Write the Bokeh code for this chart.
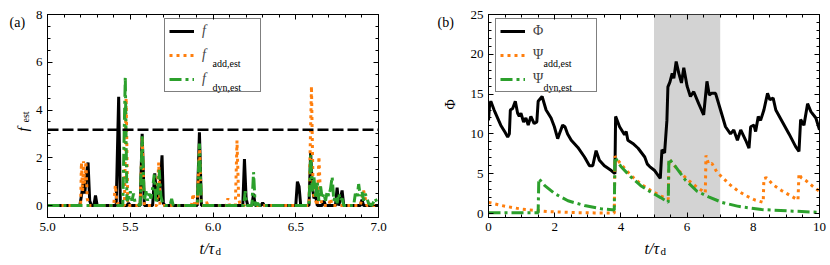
from bokeh.plotting import figure
from bokeh.models import (Range1d, FixedTicker, LinearAxis, PrintfTickFormatter, Label,
                          BoxAnnotation, Span, Legend, LegendItem)
from bokeh.layouts import row, column
from bokeh.embed import file_html
from bokeh.resources import INLINE
from bokeh.core.properties import value

# ---------------- data: panel (a) ----------------
t_f = [5.00, 5.195, 5.205, 5.215, 5.225, 5.235, 5.245, 5.255, 5.265, 5.28, 5.29, 5.30,
       5.415, 5.43, 5.44, 5.45, 5.48, 5.49, 5.50, 5.56, 5.572, 5.585, 5.635, 5.648, 5.66,
       5.67, 5.682, 5.692, 5.70, 5.71, 5.905, 5.918, 5.93, 6.18, 6.19, 6.20, 6.21, 6.235,
       6.245, 6.255, 6.29, 6.30, 6.31, 6.50, 6.51, 6.52, 6.53, 6.58, 6.59, 6.60, 6.61, 6.62,
       6.63, 6.66, 6.67, 6.68, 6.74, 6.75, 6.76, 6.77, 6.78, 6.79, 6.89, 6.90, 6.91, 7.00]
f_vals = [0, 0, 0.4, 0.9, 0.5, 1.3, 1.8, 0.2, 0, 0, 0.42, 0,
          0, 4.55, 0.1, 0, 0, 0.1, 0, 0, 3.0, 0, 0, 1.35, 0.3,
          0.2, 1.0, 2.1, 0.1, 0, 0, 3.07, 0, 0, 1.95, 0.3, 0, 0,
          0.5, 0, 0, 0.12, 0, 0, 1.0, 0.8, 0, 0, 2.2, 0.8, 0.3, 0.4,
          0, 0, 0.2, 0, 0, 0.75, 0, 0.3, 0.63, 0, 0, 0.25, 0, 0]

t_add = [5.00, 5.20, 5.205, 5.212, 5.218, 5.225, 5.232, 5.24, 5.25, 5.40, 5.41, 5.42,
         5.465, 5.475, 5.485, 5.56, 5.572, 5.585, 5.66, 5.672, 5.68, 5.87, 5.88, 5.89,
         5.905, 5.918, 5.93, 5.955, 5.96, 5.97, 6.08, 6.09, 6.10, 6.135, 6.145, 6.155,
         6.165, 6.58, 6.595, 6.605, 6.63, 6.64, 6.65, 6.66, 6.70, 6.71, 6.72, 6.89, 6.91,
         6.93, 7.00]
add_vals = [0, 0, 1.8, 0.6, 1.85, 0.9, 1.85, 0.3, 0, 0, 0.85, 0.1,
            0, 4.5, 0, 0, 2.9, 0, 0, 1.8, 0, 0, 0.5, 0,
            0, 2.5, 0, 0, 0.15, 0, 0, 0.3, 0, 0, 2.72, 0.3,
            0, 0, 5.0, 0.5, 0, 2.05, 0.3, 0, 0, 0.3, 0, 0, 0.63,
            0, 0]

t_dyn = [5.00, 5.455, 5.47, 5.48, 5.49, 5.50, 5.51, 5.52, 5.53, 5.56, 5.572, 5.585, 5.595,
         5.605, 5.615, 5.625, 5.635, 5.645, 5.655, 5.665, 5.675, 5.685, 5.695, 5.71, 5.74,
         5.75, 5.76, 5.905, 5.918, 5.93, 6.185, 6.195, 6.205, 6.235, 6.245, 6.255, 6.27,
         6.28, 6.58, 6.59, 6.60, 6.61, 6.62, 6.63, 6.64, 6.65, 6.66, 6.67, 6.68, 6.69, 6.70,
         6.71, 6.72, 6.73, 6.74, 6.75, 6.76, 6.77, 6.78, 6.79, 6.85, 6.86, 6.87, 6.88, 6.89,
         6.90, 6.91, 6.92, 6.93, 6.94, 6.96, 6.98, 7.00]
dyn_vals = [0, 0, 5.4, 0.2, 0.3, 0.6, 0.2, 0.5, 0.1, 0, 2.9, 0.2, 0.6,
            0.2, 0.5, 0.3, 0.7, 1.3, 0.1, 0.5, 1.5, 0.4, 0.1, 0, 0,
            0.28, 0, 0, 2.6, 0, 0, 0.6, 0, 0, 1.4, 0, 0.1,
            0, 0, 2.1, 0.6, 1.2, 0.3, 1.0, 0.2, 0.8, 0.3, 0.5, 0.2, 0.6, 0.4,
            0.7, 1.2, 0.2, 0.4, 0.1, 0.5, 0.2, 0.3, 0, 0, 0.5, 0.3, 0.9, 0.4,
            0.6, 0.2, 0.5, 0.3, 0.1, 0, 0.3, 0]

threshold = 3.17

# ---------------- data: panel (b) ----------------
t_phi = [0.0, 0.03, 0.07, 0.17, 0.37, 0.5, 0.58, 0.63, 0.66, 0.73, 0.81, 0.88, 0.93, 0.98,
         1.06, 1.13, 1.2, 1.28, 1.38, 1.46, 1.5, 1.62, 1.74, 1.89, 1.99, 2.09, 2.14, 2.24,
         2.31, 2.39, 2.5, 2.7, 2.9, 3.05, 3.15, 3.25, 3.35, 3.5, 3.71, 3.82, 3.84, 3.96,
         4.11, 4.16, 4.21, 4.36, 4.52, 4.72, 4.8, 4.87, 5.02, 5.19, 5.24, 5.32, 5.39, 5.42,
         5.48, 5.55, 5.6, 5.67, 5.75, 5.83, 5.9, 6.0, 6.1, 6.2, 6.35, 6.5, 6.6, 6.67, 6.74,
         6.86, 7.01, 7.16, 7.31, 7.41, 7.52, 7.62, 7.77, 7.87, 7.92, 8.02, 8.07, 8.15, 8.22,
         8.32, 8.43, 8.5, 8.6, 8.68, 8.88, 9.08, 9.28, 9.38, 9.43, 9.53, 9.64, 9.74, 9.89, 10.0]
phi = [11.7, 13.5, 14.1, 13.0, 11.1, 10.2, 9.6, 10.0, 13.0, 13.2, 14.1, 12.6, 12.2, 12.6,
       11.5, 12.0, 11.1, 12.2, 11.3, 11.5, 14.1, 14.7, 13.0, 12.0, 10.9, 9.4, 10.0, 11.1,
       10.9, 10.0, 9.2, 8.3, 7.1, 6.0, 6.0, 7.9, 6.7, 6.0, 5.4, 5.0, 12.2, 10.9,
       9.9, 10.3, 9.2, 8.8, 8.2, 7.1, 6.2, 5.9, 5.4, 4.4, 8.0, 7.6, 11.7, 15.9,
       16.5, 17.6, 17.0, 19.1, 17.6, 16.4, 18.3, 16.0, 14.7, 15.3, 13.8, 12.4, 16.6, 14.9, 15.1,
       15.1, 13.0, 10.9, 10.0, 10.5, 9.2, 10.5, 9.2, 8.2, 10.9, 11.1, 10.3, 12.2, 11.7,
       13.0, 15.1, 14.3, 14.5, 13.0, 11.5, 10.0, 8.4, 7.8, 11.8, 11.1, 13.8, 12.8, 12.0, 10.5]

t_psi_add = [0, 0.4, 1.0, 1.8, 2.6, 3.2, 3.8, 3.82, 4.0, 4.3, 4.6, 4.9, 5.2, 5.43, 5.45,
             5.7, 6.0, 6.3, 6.55, 6.57, 6.65, 6.75, 6.9, 7.1, 7.3, 7.55, 7.8, 8.05, 8.3,
             8.32, 8.4, 8.6, 8.85, 9.1, 9.35, 9.38, 9.45, 9.6, 9.8, 10.0]
psi_add = [1.4, 1.0, 0.55, 0.25, 0.12, 0.08, 0.05, 7.2, 6.2, 4.8, 3.7, 2.9, 2.2, 1.8, 6.8,
           5.6, 4.3, 3.3, 2.6, 7.3, 6.2, 6.3, 5.2, 4.4, 3.6, 2.8, 2.2, 1.7, 1.4,
           4.4, 4.5, 3.6, 2.9, 2.3, 1.7, 5.0, 4.5, 4.1, 3.4, 2.8]

t_psi_dyn = [0, 1.5, 1.52, 1.7, 2.0, 2.4, 2.9, 3.4, 3.8, 3.82, 4.0, 4.3, 4.6, 4.9, 5.2,
             5.43, 5.45, 5.65, 5.95, 6.3, 6.65, 7.05, 7.55, 8.25, 9.2, 10.0]
psi_dyn = [0.1, 0.1, 4.4, 3.5, 2.5, 1.6, 1.0, 0.6, 0.45, 7.1, 5.9, 4.6, 3.5, 2.7, 2.0,
           1.4, 6.9, 5.9, 4.2, 2.8, 2.1, 1.4, 0.9, 0.5, 0.3, 0.15]

shade_start, shade_end = 5.0, 7.0

ORANGE = "#ff7f0e"
GREEN = "#2ca02c"
SERIF = "Liberation Serif"
DOT = "3 4"
DASHDOT = "12 4 3 4"

FRAME_W, FRAME_H = 331, 203
FRAME_TOP = 14
BOTTOM = 22
MAIN_H = FRAME_TOP + FRAME_H + BOTTOM  # 239
STRIP_H = 26


def make_fig(xr, yr, xticks, xminor, yticks, yminor, xfmt, bl, br):
    p = figure(frame_width=FRAME_W, frame_height=FRAME_H, x_range=Range1d(*xr),
               y_range=Range1d(*yr), output_backend="svg", toolbar_location=None,
               min_border_left=bl, min_border_right=br, min_border_top=FRAME_TOP,
               min_border_bottom=BOTTOM, title=None)
    p.xgrid.visible = False
    p.ygrid.visible = False
    p.outline_line_color = "black"
    p.outline_line_width = 1
    xt = FixedTicker(ticks=xticks, minor_ticks=xminor)
    yt = FixedTicker(ticks=yticks, minor_ticks=yminor)
    p.xaxis.ticker = xt
    p.yaxis.ticker = yt
    if xfmt:
        p.xaxis.formatter = PrintfTickFormatter(format=xfmt)
    for ax in list(p.xaxis) + list(p.yaxis):
        ax.major_tick_in = 5
        ax.major_tick_out = 0
        ax.minor_tick_in = 3
        ax.minor_tick_out = 0
        ax.axis_line_color = "black"
        ax.major_tick_line_color = "black"
        ax.minor_tick_line_color = "black"
        ax.major_label_text_font = SERIF
        ax.major_label_text_font_size = "13px"
        ax.major_label_text_color = "black"
    p.xaxis.major_label_standoff = 5
    p.yaxis.major_label_standoff = 5
    top = LinearAxis(ticker=xt, major_label_overrides={t: "" for t in xticks},
                     major_tick_in=5, major_tick_out=0, minor_tick_in=3, minor_tick_out=0,
                     major_label_standoff=0, axis_line_color=None,
                     major_label_text_font_size="1px")
    right = LinearAxis(ticker=yt, major_label_overrides={t: "" for t in yticks},
                       major_tick_in=5, major_tick_out=0, minor_tick_in=3, minor_tick_out=0,
                       major_label_standoff=0, axis_line_color=None,
                       major_label_text_font_size="1px")
    p.add_layout(top, "above")
    p.add_layout(right, "right")
    return p


def strip(w, h):
    # plain text carrier: no axes, no title, frame = whole canvas
    s = figure(width=w, height=h, output_backend="svg", toolbar_location=None,
               min_border=0, x_axis_type=None, y_axis_type=None, title=None,
               x_range=Range1d(0, 1), y_range=Range1d(0, 1))
    s.grid.visible = False
    s.outline_line_color = None
    return s


def lab(p, text, px, py, size, style="normal", angle=0, align="left",
        baseline="alphabetic"):
    # px, py: pixels from the canvas top-left corner of figure p
    p.add_layout(Label(x=px, y=py, x_units="canvas", y_units="canvas", text=text,
                       text_font=SERIF, text_font_size=size, text_font_style=style,
                       text_color="black", angle=angle, text_align=align,
                       text_baseline=baseline))


# ---------------- panel (a) ----------------
SAL = 32                     # width of left text strip of (a)
pa = make_fig((5.0, 7.0), (-0.5, 8.0), [5.0, 5.5, 6.0, 6.5, 7.0],
              [round(5.0 + 0.1 * i, 2) for i in range(21)],
              [0, 2, 4, 6, 8], [0.5 * i for i in range(-1, 17)], "%.1f", 47 - SAL, 42)
ra1 = pa.line(t_f, f_vals, line_color="black", line_width=3)
ra2 = pa.line(t_add, add_vals, line_color=ORANGE, line_width=3, line_dash=DOT)
ra3 = pa.line(t_dyn, dyn_vals, line_color=GREEN, line_width=3, line_dash=DASHDOT)
pa.add_layout(Span(location=threshold, dimension="width", line_color="black",
                   line_width=2.5, line_dash="11 4"))
lab(pa, "add,est", 212 - SAL, 63, "10px")
lab(pa, "dyn,est", 212 - SAL, 87, "10px")
leg_a = Legend(items=[LegendItem(label=value("f"), renderers=[ra1]),
                      LegendItem(label=value("f"), renderers=[ra2]),
                      LegendItem(label=value("f"), renderers=[ra3])],
               location=(117, 125), padding=4, spacing=8, glyph_width=25, glyph_height=12,
               label_width=54, label_height=12, label_standoff=8,
               label_text_font=SERIF, label_text_font_size="14px",
               label_text_font_style="italic", border_line_color="black",
               border_line_width=1, background_fill_alpha=0.0)
pa.add_layout(leg_a)

sa_left = strip(SAL, MAIN_H)
lab(sa_left, "(a)", 9, 22, "14px")
lab(sa_left, "f", 22, 131, "15px", style="italic", angle=1.5708)
lab(sa_left, "est", 25, 122, "10px", angle=1.5708)
WA = SAL + (47 - SAL) + FRAME_W + 42   # 420
sa_bot = strip(WA, STRIP_H)
lab(sa_bot, "t/τ", 199, 248 - MAIN_H, "16px", style="italic")
lab(sa_bot, "d", 215, 250 - MAIN_H, "11px")

# ---------------- panel (b) ----------------
SBL = 47                     # width of left text strip of (b)
pb = make_fig((0, 10), (-0.5, 25), [0, 2, 4, 6, 8, 10], [0.5 * i for i in range(21)],
              [0, 5, 10, 15, 20, 25], list(range(0, 26)), None, 67 - SBL, 10)
pb.add_layout(BoxAnnotation(left=shade_start, right=shade_end, fill_color="#d3d3d3",
                            fill_alpha=1.0, line_color=None, level="underlay"))
rb1 = pb.line(t_phi, phi, line_color="black", line_width=3)
rb2 = pb.line(t_psi_add, psi_add, line_color=ORANGE, line_width=3, line_dash=DOT)
rb3 = pb.line(t_psi_dyn, psi_dyn, line_color=GREEN, line_width=3, line_dash=DASHDOT)
OXB = WA + SBL               # page x of pb canvas
lab(pb, "add,est", 543 - OXB, 63, "10px")
lab(pb, "dyn,est", 543 - OXB, 87, "10px")
leg_b = Legend(items=[LegendItem(label=value("Φ"), renderers=[rb1]),
                      LegendItem(label=value("Ψ"), renderers=[rb2]),
                      LegendItem(label=value("Ψ"), renderers=[rb3])],
               location=(7, 125), padding=4, spacing=8, glyph_width=25, glyph_height=12,
               label_width=59, label_height=12, label_standoff=8,
               label_text_font=SERIF, label_text_font_size="14px",
               border_line_color="black", border_line_width=1, background_fill_alpha=0.0)
pb.add_layout(leg_b)

sb_left = strip(SBL, MAIN_H)
lab(sb_left, "(b)", 437 - WA, 22, "14px")
lab(sb_left, "Φ", 450 - WA, 104, "14px", angle=1.5708, align="center", baseline="middle")
WB = SBL + (67 - SBL) + FRAME_W + 10
sb_bot = strip(WB, STRIP_H)
lab(sb_bot, "t/τ", 644 - WA, 248 - MAIN_H, "16px", style="italic")
lab(sb_bot, "d", 660 - WA, 250 - MAIN_H, "11px")

layout = row(column(row(sa_left, pa), sa_bot), column(row(sb_left, pb), sb_bot))
open("out.html", "w").write(file_html(layout, INLINE))
